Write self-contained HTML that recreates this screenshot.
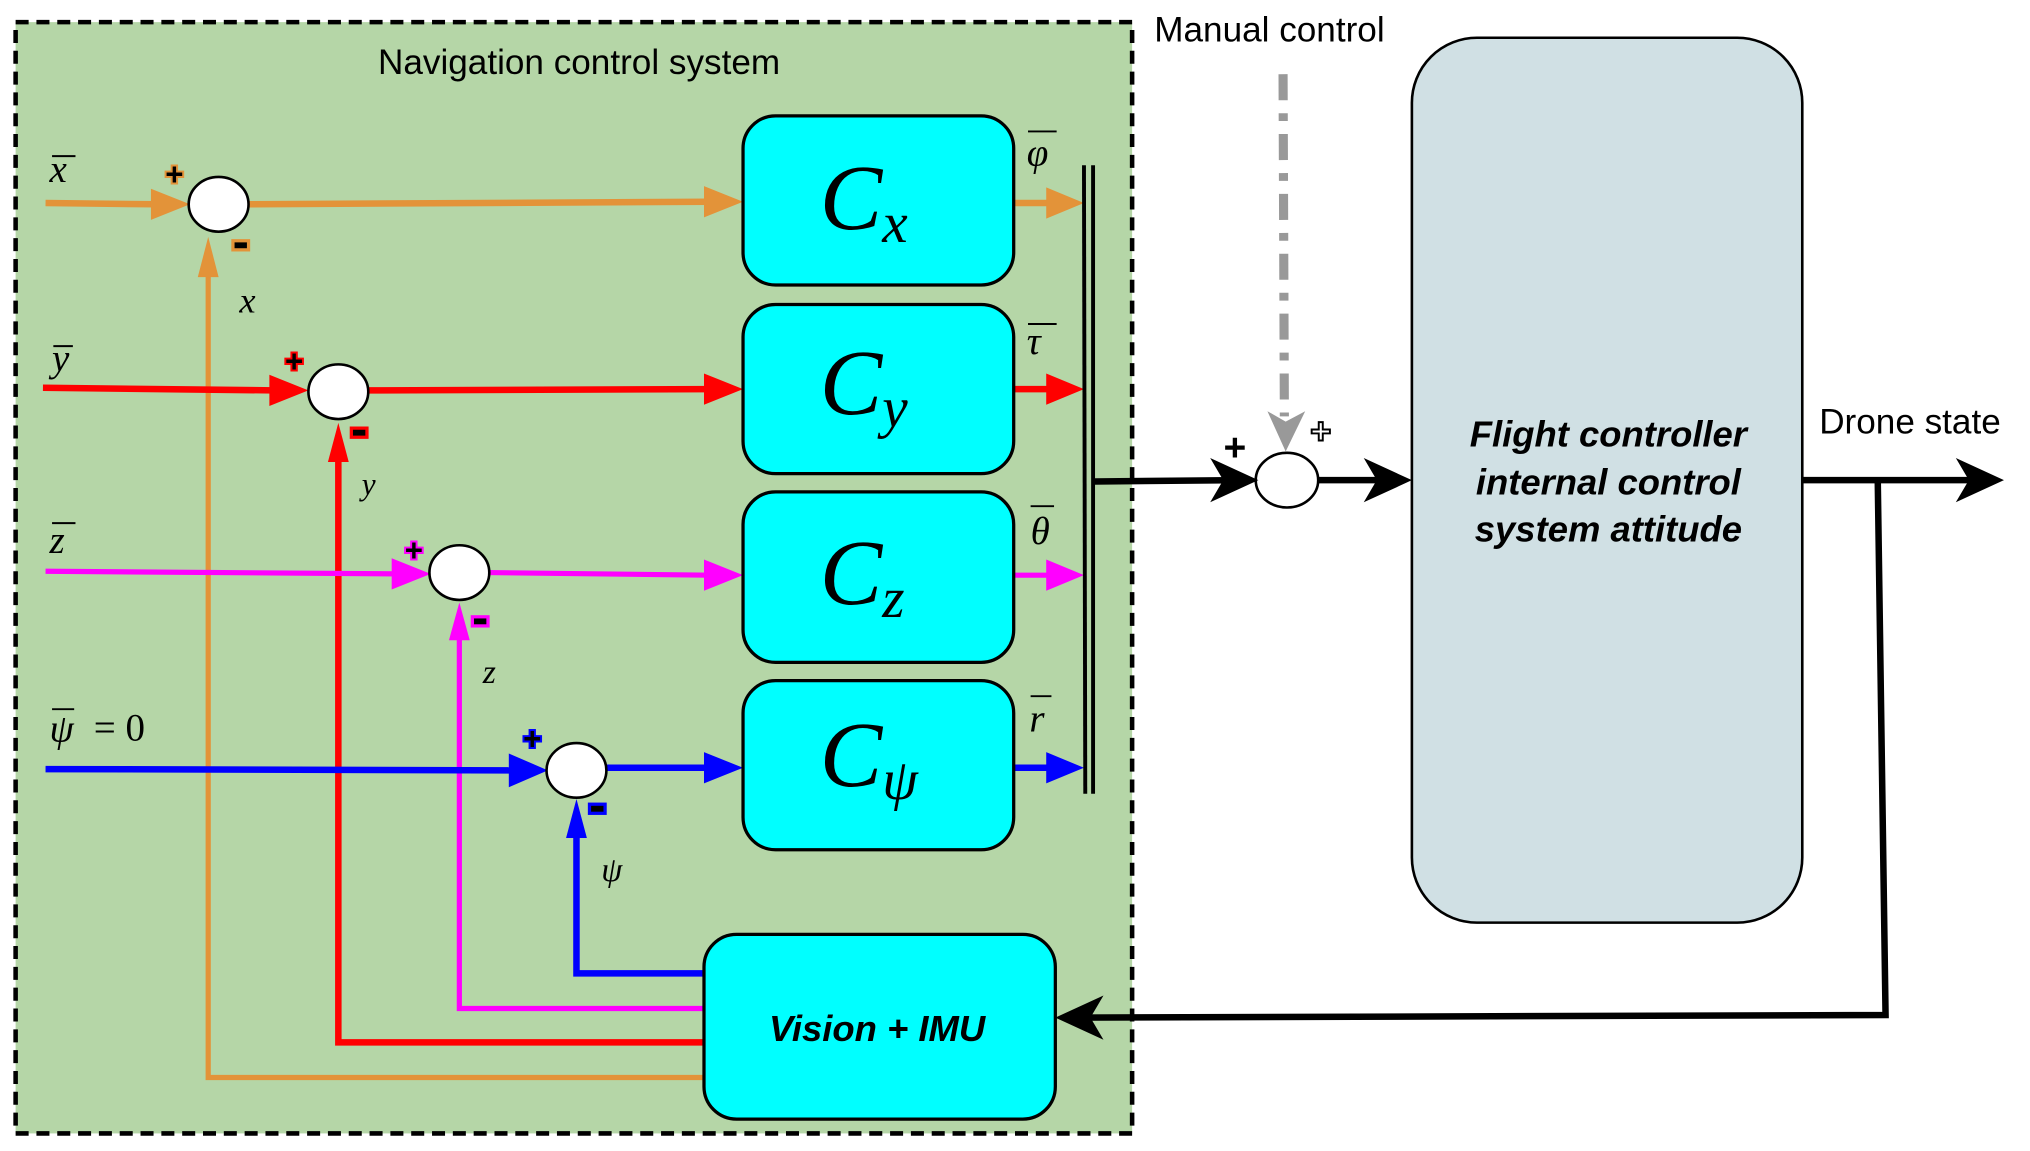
<!DOCTYPE html>
<html><head><meta charset="utf-8"><style>html,body{margin:0;padding:0;background:#fff}svg{display:block}</style></head>
<body>
<svg width="2030" height="1151" viewBox="0 0 1560 884.5" xmlns="http://www.w3.org/2000/svg" font-family="Liberation Sans, sans-serif">
<rect x="12" y="17" width="858" height="854" fill="#b5d6a7" stroke="#000" stroke-width="3.5" stroke-dasharray="10,6"/>
<text x="445" y="57" font-size="27" text-anchor="middle">Navigation control system</text>

<!-- feedback lines -->
<polyline points="542,828 160,828 160,210" fill="none" stroke="#e39339" stroke-width="4"/>
<polygon points="160,182 152,213 168,213" fill="#e39339"/>
<polyline points="542,801 260,801 260,350" fill="none" stroke="#f00" stroke-width="5"/>
<polygon points="260,325 252,355 268,355" fill="#f00"/>
<polyline points="542,775 353,775 353,490" fill="none" stroke="#f0f" stroke-width="4"/>
<polygon points="353,463 345,492 361,492" fill="#f0f"/>
<polyline points="542,748 443,748 443,640" fill="none" stroke="#00f" stroke-width="5"/>
<polygon points="443,614 435,644 451,644" fill="#00f"/>

<!-- inputs -->
<g stroke-width="4" fill="none">
<line x1="35" y1="156" x2="120" y2="157" stroke="#e39339" stroke-width="5"/>
<line x1="190" y1="157" x2="545" y2="155" stroke="#e39339" stroke-width="5"/>
<line x1="33" y1="298" x2="210" y2="300" stroke="#f00" stroke-width="5"/>
<line x1="283" y1="300" x2="545" y2="299" stroke="#f00" stroke-width="5"/>
<line x1="35" y1="439" x2="305" y2="441" stroke="#f0f"/>
<line x1="375" y1="440" x2="545" y2="442" stroke="#f0f"/>
<line x1="35" y1="591" x2="395" y2="592" stroke="#00f" stroke-width="5"/>
<line x1="466" y1="590" x2="545" y2="590" stroke="#00f" stroke-width="5"/>
<line x1="780" y1="156" x2="808" y2="156" stroke="#e39339" stroke-width="5"/>
<line x1="780" y1="299" x2="808" y2="299" stroke="#f00" stroke-width="5"/>
<line x1="780" y1="442" x2="808" y2="442" stroke="#f0f"/>
<line x1="780" y1="590" x2="808" y2="590" stroke="#00f" stroke-width="5"/>
</g>
<polygon points="146,157 116,145 116,169" fill="#e39339"/>
<polygon points="571,155 541,143 541,167" fill="#e39339"/>
<polygon points="833,156 804,144 804,168" fill="#e39339"/>
<polygon points="237,300 207,288 207,312" fill="#f00"/>
<polygon points="571,299 541,287 541,311" fill="#f00"/>
<polygon points="833,299 804,287 804,311" fill="#f00"/>
<polygon points="331,441 301,429 301,453" fill="#f0f"/>
<polygon points="571,442 541,430 541,454" fill="#f0f"/>
<polygon points="833,442 804,430 804,454" fill="#f0f"/>
<polygon points="421,592 391,579 391,605" fill="#00f"/>
<polygon points="571,590 541,578 541,602" fill="#00f"/>
<polygon points="833,590 804,578 804,602" fill="#00f"/>

<!-- summing junctions -->
<g fill="#fff" stroke="#000" stroke-width="2">
<ellipse cx="168" cy="157" rx="23" ry="21"/>
<ellipse cx="260" cy="301" rx="23" ry="21"/>
<ellipse cx="353" cy="440" rx="23" ry="21"/>
<ellipse cx="443" cy="592" rx="23" ry="21"/>
<ellipse cx="989" cy="369" rx="24" ry="21"/>
</g>
<g font-size="24" font-weight="bold" text-anchor="middle">
<text x="134" y="142" fill="#000" stroke="#e39339" stroke-width="3" paint-order="stroke">+</text>
<text x="226" y="286" fill="#000" stroke="#f00" stroke-width="3" paint-order="stroke">+</text>
<text x="318" y="431" fill="#000" stroke="#f0f" stroke-width="3" paint-order="stroke">+</text>
<text x="409" y="576" fill="#000" stroke="#00f" stroke-width="3" paint-order="stroke">+</text>
<text x="949" y="354" fill="#000" font-size="30">+</text>
<text x="1015" y="341" fill="#fff" stroke="#000" stroke-width="1.5" font-size="28">+</text>
</g>
<g stroke-width="2.5">
<rect x="179" y="185" width="12" height="7" fill="#000" stroke="#e39339"/>
<rect x="270" y="329" width="12" height="7" fill="#000" stroke="#f00"/>
<rect x="363" y="474" width="12" height="7" fill="#000" stroke="#f0f"/>
<rect x="453" y="618" width="12" height="7" fill="#000" stroke="#00f"/>
</g>

<!-- controller boxes -->
<g fill="#0ff" stroke="#000" stroke-width="2.5">
<rect x="571" y="89" width="208" height="130" rx="25"/>
<rect x="571" y="234" width="208" height="130" rx="25"/>
<rect x="571" y="378" width="208" height="131" rx="25"/>
<rect x="571" y="523" width="208" height="130" rx="25"/>
<rect x="541" y="718" width="270" height="142" rx="25"/>
</g>
<g font-family="Liberation Serif, serif" font-style="italic">
<text x="630" y="176" font-size="72">C<tspan font-size="44" dy="10">x</tspan></text>
<text x="630" y="318" font-size="72">C<tspan font-size="44" dy="10">y</tspan></text>
<text x="630" y="464" font-size="72">C<tspan font-size="44" dy="10">z</tspan></text>
<text x="630" y="604" font-size="72">C<tspan font-size="44" dy="10">ψ</tspan></text>
<g font-size="30">
<text x="38" y="140">x</text><line x1="40" y1="120" x2="58" y2="120" stroke="#000" stroke-width="1.5"/>
<text x="40" y="285">y</text><line x1="41" y1="266" x2="56" y2="266" stroke="#000" stroke-width="1.5"/>
<text x="38" y="425">z</text><line x1="40" y1="402" x2="58" y2="402" stroke="#000" stroke-width="1.5"/>
<text x="38" y="570">ψ</text><line x1="40" y1="545" x2="57" y2="545" stroke="#000" stroke-width="1.5"/>
<text x="72" y="569" font-style="normal">= 0</text>
<text x="184" y="240" font-size="28">x</text>
<text x="278" y="380" font-size="24">y</text>
<text x="371" y="525" font-size="26">z</text>
<text x="462" y="677" font-size="26">ψ</text>
<text x="789" y="127">φ</text><line x1="790" y1="101" x2="812" y2="101" stroke="#000" stroke-width="1.5"/>
<text x="789" y="272">τ</text><line x1="790" y1="249" x2="812" y2="249" stroke="#000" stroke-width="1.5"/>
<text x="792" y="418">θ</text><line x1="792" y1="389" x2="810" y2="389" stroke="#000" stroke-width="1.5"/>
<text x="791" y="562">r</text><line x1="792" y1="535" x2="808" y2="535" stroke="#000" stroke-width="1.5"/>
</g>
</g>
<text x="674" y="800" font-size="28" font-weight="bold" font-style="italic" text-anchor="middle">Vision + IMU</text>

<!-- mux -->
<line x1="833" y1="127" x2="834" y2="610" stroke="#000" stroke-width="3"/>
<line x1="840" y1="127" x2="840" y2="610" stroke="#000" stroke-width="3"/>

<!-- black connections -->
<g stroke="#000" stroke-width="5" fill="none">
<line x1="841" y1="370" x2="955" y2="369"/>
<line x1="1013" y1="369" x2="1075" y2="369"/>
<polyline points="1385,369 1530,369"/>
<polyline points="1443,369 1449,780 825,782"/>
</g>
<polygon points="967,369 930,352 940,369 930,386" fill="#000"/>
<polygon points="1085,369 1048,352 1058,369 1048,386" fill="#000"/>
<polygon points="1540,369 1503,352 1513,369 1503,386" fill="#000"/>
<polygon points="811,782 848,765 838,782 848,799" fill="#000"/>

<!-- manual control -->
<text x="887" y="32" font-size="27">Manual control</text>
<line x1="986" y1="57" x2="987" y2="320" stroke="#999" stroke-width="7" stroke-dasharray="20,10,6,10"/>
<polygon points="988,347 974,316 988,324 1003,316" fill="#999"/>

<!-- flight controller -->
<rect x="1085" y="29" width="300" height="680" rx="50" fill="#d0e0e4" stroke="#000" stroke-width="2"/>
<g font-size="28" font-weight="bold" font-style="italic" text-anchor="middle">
<text x="1236" y="343">Flight controller</text>
<text x="1236" y="380">internal control</text>
<text x="1236" y="416">system attitude</text>
</g>
<text x="1398" y="333" font-size="27">Drone state</text>
</svg>
</body></html>
